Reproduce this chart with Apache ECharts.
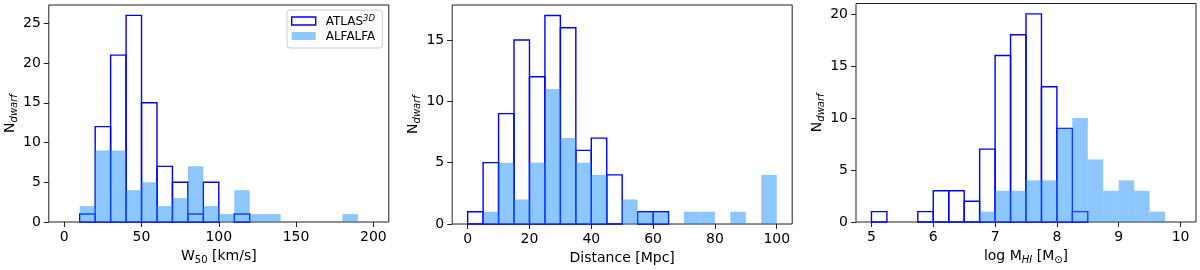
<!DOCTYPE html>
<html><head><meta charset="utf-8">
<script src="https://cdn.jsdelivr.net/npm/echarts@6/dist/echarts.min.js"></script>
<style>html,body{margin:0;padding:0;background:#fff}#c{width:1200px;height:270px}</style>
</head><body><div id="c"></div>
<script>
// ---- data ----
const w50Edges = [0,10,20,30,40,50,60,70,80,90,100,110,120,130,140,150,160,170,180,190,200];
const atlasW50 = [0,1,12,21,26,15,7,5,1,5,0,1,0,0,0,0,0,0,0,0];
const alfalfaW50 = [0,2,9,9,4,5,2,3,7,2,1,4,1,1,0,0,0,0,1,0];

const distEdges = [0,5,10,15,20,25,30,35,40,45,50,55,60,65,70,75,80,85,90,95,100];
const atlasDist = [1,5,9,15,12,17,16,6,7,4,0,1,1,0,0,0,0,0,0,0];
const alfalfaDist = [0,1,5,2,5,11,7,5,4,0,2,1,1,0,1,1,0,1,0,4];

const mhiEdges = [5,5.25,5.5,5.75,6,6.25,6.5,6.75,7,7.25,7.5,7.75,8,8.25,8.5,8.75,9,9.25,9.5,9.75,10];
const atlasMHI = [1,0,0,1,3,3,2,7,16,18,20,13,9,1,0,0,0,0,0,0];
const alfalfaMHI = [0,0,0,0,0,0,0,1,3,3,4,4,9,10,6,3,4,3,1,0];

const w50XTicks = [0,50,100,150,200];
const w50YTicks = [0,5,10,15,20,25];
const distXTicks = [0,20,40,60,80,100];
const distYTicks = [0,5,10,15];
const mhiXTicks = [5,6,7,8,9,10];
const mhiYTicks = [0,5,10,15,20];

const seriesNames = ['ATLAS3D','ALFALFA'];

// ---- chart ----
const FONT = 'DejaVu Sans';
const BLUE = '#0000ff';
const FILL = '#1e90ff';

function toBars(edges, counts){
  const out = [];
  counts.forEach((c,i)=>{ if(c>0) out.push([edges[i], edges[i+1], c]); });
  return out;
}
function rectFor(api){
  const p0 = api.coord([api.value(0), api.value(2)]);
  const p1 = api.coord([api.value(1), 0]);
  return {x:p0[0], y:p0[1], width:p1[0]-p0[0], height:p1[1]-p0[1]};
}
function outlineRender(params, api){
  return {type:'rect', shape:rectFor(api), style:{fill:'transparent', stroke:BLUE, lineWidth:1.4}};
}
function fillRender(params, api){
  return {type:'rect', shape:rectFor(api), style:{fill:FILL, opacity:0.5}};
}

const richName = {
  m:{fontFamily:FONT, fontSize:14, color:'#000', lineHeight:16, verticalAlign:'top'},
  s:{fontFamily:FONT, fontSize:10, color:'#000', lineHeight:11, verticalAlign:'bottom'},
  si:{fontFamily:FONT, fontSize:10, color:'#000', fontStyle:'italic', lineHeight:11, verticalAlign:'bottom'}
};

const lefts = [48.8, 452.2, 856];
const tops = [5, 5, 3.5];
const grids = lefts.map((l,i)=>({left:l, top:tops[i], width:340, height:221, show:true, borderColor:'#222', borderWidth:1, backgroundColor:'transparent'}));

const xDefs = [
  {min:-10, max:210, ticks:w50XTicks, name:'{m|W}{s|50}{m| [km/s]}'},
  {min:-5, max:105, ticks:distXTicks, name:'{m|Distance [Mpc]}'},
  {min:4.75, max:10.25, ticks:mhiXTicks, name:'{m|log M}{si|HI}{m| [M}{s|⊙}{m|]}'}
];
const yDefs = [
  {min:0, max:27.3, ticks:w50YTicks},
  {min:0, max:17.85, ticks:distYTicks},
  {min:0, max:21, ticks:mhiYTicks}
];

const xAxis = xDefs.map((d,i)=>({
  type:'value', gridIndex:i, min:d.min, max:d.max, position:'bottom',
  name:d.name, nameLocation:'middle', nameGap:27,
  nameTextStyle:{rich:richName},
  axisLine:{show:false, onZero:false}, splitLine:{show:false},
  axisTick:{show:true, inside:false, length:5, lineStyle:{color:'#222', width:1}, customValues:d.ticks},
  axisLabel:{fontFamily:FONT, fontSize:14, color:'#000', margin:8, customValues:d.ticks}
}));
const yAxis = yDefs.map((d,i)=>({
  type:'value', gridIndex:i, min:d.min, max:d.max, position:'left',
  name:'{m|N}{si|dwarf}', nameLocation:'middle', nameGap:25, nameRotate:90,
  nameTextStyle:{rich:richName},
  axisLine:{show:false, onZero:false}, splitLine:{show:false},
  axisTick:{show:true, inside:false, length:5, lineStyle:{color:'#222', width:1}, customValues:d.ticks},
  axisLabel:{fontFamily:FONT, fontSize:14, color:'#000', margin:8, customValues:d.ticks}
}));

const panels = [[atlasW50, alfalfaW50, w50Edges],[atlasDist, alfalfaDist, distEdges],[atlasMHI, alfalfaMHI, mhiEdges]];
const series = [];
panels.forEach((p,i)=>{
  series.push({type:'custom', name:seriesNames[0], xAxisIndex:i, yAxisIndex:i, renderItem:outlineRender,
    data:toBars(p[2], p[0]), encode:{x:[0,1], y:2}, z:2, animation:false, silent:true});
  series.push({type:'custom', name:seriesNames[1], xAxisIndex:i, yAxisIndex:i, renderItem:fillRender,
    data:toBars(p[2], p[1]), encode:{x:[0,1], y:2}, z:3, animation:false, silent:true});
});

const chart = echarts.init(document.getElementById('c'), null, {renderer:'canvas'});
chart.setOption({
  animation:false,
  backgroundColor:'#fff',
  grid:grids, xAxis, yAxis, series,
  legend:{
    left:287, top:10, orient:'vertical', itemWidth:24, itemHeight:8, itemGap:3,
    padding:[4,7,5,4], backgroundColor:'#fff', borderColor:'#cccccc', borderWidth:1, borderRadius:3,
    selectedMode:false,
    data:[
      {name:seriesNames[0], icon:'rect', itemStyle:{color:'#fff', borderColor:BLUE, borderWidth:1.4}},
      {name:seriesNames[1], icon:'rect', itemStyle:{color:FILL, opacity:0.5, borderWidth:0}}
    ],
    formatter:function(n){ return n==='ATLAS3D' ? '{a|ATLAS}{sup|3D}' : '{a|ALFALFA}'; },
    textStyle:{fontFamily:FONT, fontSize:12, color:'#000', padding:[0,0,0,5],
      rich:{
        a:{fontFamily:FONT, fontSize:12, color:'#000', lineHeight:14, verticalAlign:'bottom'},
        sup:{fontFamily:FONT, fontSize:8.5, fontStyle:'italic', color:'#000', lineHeight:10, verticalAlign:'top'}
      }}
  }
});
</script></body></html>
